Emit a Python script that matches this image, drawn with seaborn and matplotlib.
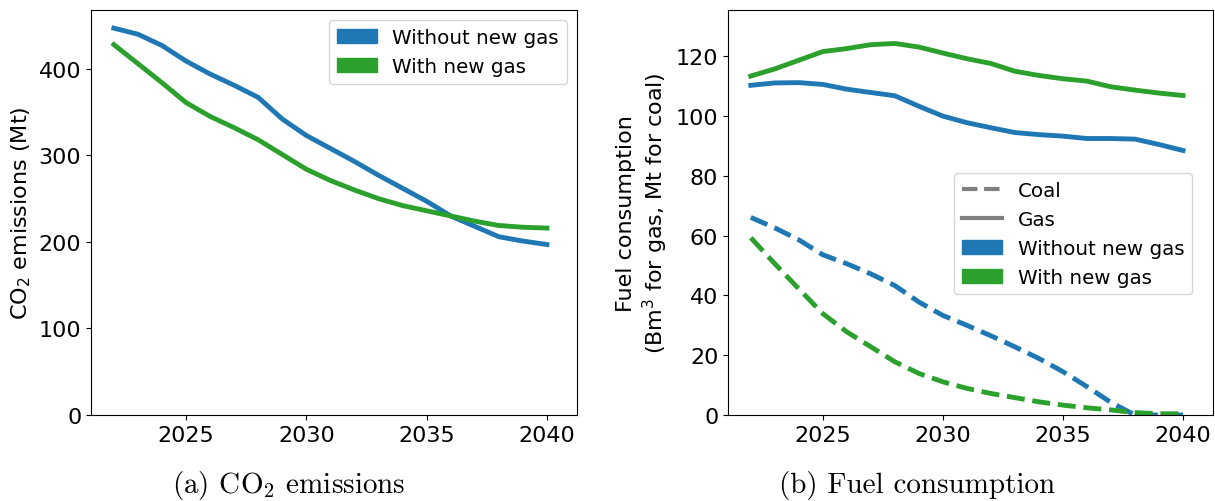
import matplotlib
matplotlib.use("Agg")
import matplotlib.pyplot as plt
from matplotlib.lines import Line2D
from matplotlib.patches import Patch
import numpy as np
import pandas as pd
import seaborn as sns

# Scenario years
years = list(range(2022, 2041))

# CO2 emissions (Mt)
co2_without = [447, 440, 427, 409, 394, 381, 367, 342, 323, 308, 293, 277,
               262, 247, 230, 218, 206, 201, 197]
co2_with = [428, 406, 384, 361, 345, 332, 318, 301, 284, 271, 260, 250,
            242, 236, 230, 224, 219, 217, 216]

# Gas consumption (Bm3)
gas_without = [110.3, 111.1, 111.2, 110.6, 109.0, 107.9, 106.8, 103.3, 100.0,
               97.8, 96.1, 94.5, 93.8, 93.3, 92.5, 92.5, 92.3, 90.5, 88.5]
gas_with = [113.4, 115.8, 118.7, 121.6, 122.6, 123.9, 124.3, 123.1, 121.1,
            119.2, 117.6, 115.0, 113.6, 112.5, 111.7, 109.8, 108.7, 107.7, 106.9]

# Coal consumption (Mt)
coal_without = [66.1, 62.6, 58.6, 53.6, 50.6, 47.2, 43.3, 37.8, 33.3, 30.0,
                26.5, 22.8, 18.9, 14.5, 9.5, 4.2, 0.0, 0.0, 0.0]
coal_with = [59.3, 50.6, 42.2, 33.9, 27.8, 22.8, 17.8, 13.9, 11.1, 8.9, 7.2,
             5.8, 4.4, 3.3, 2.4, 1.7, 0.8, 0.4, 0.4]

scenarios = ["Without new gas", "With new gas"]
fuels = ["Coal", "Gas"]
palette = {"Without new gas": "#1f77b4", "With new gas": "#2ca02c"}

co2_df = pd.DataFrame({
    "year": years * 2,
    "value": co2_without + co2_with,
    "scenario": [scenarios[0]] * len(years) + [scenarios[1]] * len(years),
})

fuel_rows = []
for scen, fuel, vals in [(scenarios[0], "Gas", gas_without),
                         (scenarios[1], "Gas", gas_with),
                         (scenarios[0], "Coal", coal_without),
                         (scenarios[1], "Coal", coal_with)]:
    for y, v in zip(years, vals):
        fuel_rows.append({"year": y, "value": v, "scenario": scen, "fuel": fuel})
fuel_df = pd.DataFrame(fuel_rows)

plt.rcParams["font.size"] = 16
plt.rcParams["font.family"] = ["DejaVu Sans"]
plt.rcParams["legend.fontsize"] = 14.3

fig = plt.figure(figsize=(12.15, 5.02), dpi=100)
ax1 = fig.add_axes([91 / 1215, 86 / 502, 486 / 1215, 405 / 502])
ax2 = fig.add_axes([728 / 1215, 86 / 502, 485 / 1215, 405 / 502])

lw = 3.5

# (a) CO2 emissions
sns.lineplot(data=co2_df, x="year", y="value", hue="scenario",
             palette=palette, linewidth=lw, legend=False, ax=ax1)
ax1.set_xlim(2021.05, 2041.25)
ax1.set_ylim(0, 468)
ax1.set_xticks([2025, 2030, 2035, 2040])
ax1.set_yticks([0, 100, 200, 300, 400])
ax1.set_xlabel("")
ax1.set_ylabel(r"CO$_2$ emissions (Mt)")
ax1.legend(handles=[Patch(color=palette[s], label=s) for s in scenarios],
           loc="upper right")

# (b) Fuel consumption
sns.lineplot(data=fuel_df, x="year", y="value", hue="scenario", style="fuel",
             palette=palette, dashes={"Coal": (3.7, 1.6), "Gas": ""},
             linewidth=lw, legend=False, ax=ax2)
ax2.set_xlim(2021.05, 2041.25)
ax2.set_ylim(0, 135.5)
ax2.set_xticks([2025, 2030, 2035, 2040])
ax2.set_yticks([0, 20, 40, 60, 80, 100, 120])
ax2.set_xlabel("")
ax2.set_ylabel("Fuel consumption\n" + r"(Bm$^3$ for gas, Mt for coal)")
handles = [
    Line2D([], [], color="grey", linestyle="--", linewidth=3, label="Coal"),
    Line2D([], [], color="grey", linestyle="-", linewidth=3, label="Gas"),
    Patch(color=palette[scenarios[0]], label=scenarios[0]),
    Patch(color=palette[scenarios[1]], label=scenarios[1]),
]
ax2.legend(handles=handles, loc="upper right",
           bbox_to_anchor=(0.957, 0.598), borderaxespad=0)

# Sub-figure captions
fig.text(288.5 / 1215, 8.5 / 502, r"(a) CO$_2$ emissions",
         family="cmr10", math_fontfamily="cm", fontsize=21,
         ha="center", va="baseline")
fig.text(916.7 / 1215, 8.5 / 502, "(b) Fuel consumption",
         family="cmr10", math_fontfamily="cm", fontsize=21,
         ha="center", va="baseline")

fig.savefig("out.png", dpi=100)
